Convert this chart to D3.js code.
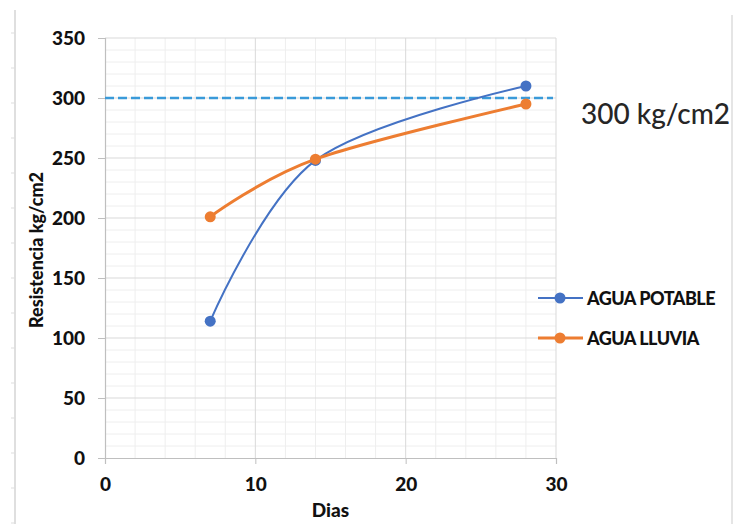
<!DOCTYPE html>
<html>
<head>
<meta charset="utf-8">
<script src="https://cdn.jsdelivr.net/npm/d3@7"></script>
<style>
  html, body { margin: 0; padding: 0; background: #ffffff; }
  svg { display: block; }
  text { font-family: Lato, "Noto Sans", sans-serif; }
</style>
</head>
<body>
<svg id="chart" width="734" height="524"></svg>
<script>
// Compressive strength by curing age
const dias = [7, 14, 28];
const aguaPotable = [114, 248, 310];
const aguaLluvia = [201, 249, 295];
const xTicks = [0, 10, 20, 30];
const yTicks = [0, 50, 100, 150, 200, 250, 300, 350];
const referencia = 300;
const referenciaLabel = "300 kg/cm2";
const seriesNames = ["AGUA POTABLE", "AGUA LLUVIA"];
const seriesColors = ["#4472C4", "#ED7D31"];

const svg = d3.select("#chart");
const W = 734, H = 524;
const plot = { left: 105, right: 556, top: 38, bottom: 458 };

const x = d3.scaleLinear().domain([0, 30]).range([plot.left, plot.right]);
const y = d3.scaleLinear().domain([0, 350]).range([plot.bottom, plot.top]);

// Page edges: soft frame lines with ruler marks on the left
const frame = svg.append("g");
frame.append("line").attr("x1", 15).attr("x2", 15).attr("y1", 10).attr("y2", H)
  .attr("stroke", "#d4d4d4").attr("stroke-width", 1.5);
frame.append("line").attr("x1", 732).attr("x2", 732).attr("y1", 15).attr("y2", H)
  .attr("stroke", "#dcdcdc").attr("stroke-width", 1.5);
frame.selectAll("line.ruler").data(d3.range(33, H, 35)).join("line")
  .attr("class", "ruler")
  .attr("x1", 11).attr("x2", 15).attr("y1", d => d).attr("y2", d => d)
  .attr("stroke", "#dddddd").attr("stroke-width", 1);

// Minor gridlines
const grid = svg.append("g");
grid.selectAll("line.mx").data(d3.range(2, 30, 2).filter(v => v % 10 !== 0)).join("line")
  .attr("class", "mx")
  .attr("x1", d => x(d)).attr("x2", d => x(d)).attr("y1", y(350)).attr("y2", y(0))
  .attr("stroke", "#eeeeee").attr("stroke-width", 1);
grid.selectAll("line.my").data(d3.range(10, 350, 10).filter(v => v % 50 !== 0)).join("line")
  .attr("class", "my")
  .attr("x1", x(0)).attr("x2", x(30)).attr("y1", d => y(d)).attr("y2", d => y(d))
  .attr("stroke", "#eeeeee").attr("stroke-width", 1);

// Major gridlines
grid.selectAll("line.gx").data(xTicks.filter(v => v > 0)).join("line")
  .attr("class", "gx")
  .attr("x1", d => x(d)).attr("x2", d => x(d)).attr("y1", y(350)).attr("y2", y(0))
  .attr("stroke", "#d9d9d9").attr("stroke-width", 1);
grid.selectAll("line.gy").data(yTicks.filter(v => v > 0)).join("line")
  .attr("class", "gy")
  .attr("x1", x(0)).attr("x2", x(30)).attr("y1", d => y(d)).attr("y2", d => y(d))
  .attr("stroke", "#d9d9d9").attr("stroke-width", 1);

// Axes
const xAxis = svg.append("g").attr("transform", `translate(0,${plot.bottom})`)
  .call(d3.axisBottom(x).tickValues(xTicks).tickSize(6).tickPadding(14));
const yAxis = svg.append("g").attr("transform", `translate(${plot.left},0)`)
  .call(d3.axisLeft(y).tickValues(yTicks).tickSize(7).tickPadding(13));
[xAxis, yAxis].forEach(a => {
  a.select(".domain").attr("stroke", "#bfbfbf").attr("stroke-width", 1.2);
  a.selectAll(".tick line").attr("stroke", "#bfbfbf");
  a.selectAll(".tick text").attr("fill", "#111")
    .style("font-family", "Lato, sans-serif").style("font-weight", "900").style("font-size", "19px");
});
xAxis.selectAll(".tick text").attr("dy", "0.71em");

// Axis titles
svg.append("text").attr("x", (plot.left + plot.right) / 2).attr("y", 517)
  .attr("text-anchor", "middle").attr("fill", "#111")
  .style("font-weight", "900").style("font-size", "19px").text("Dias");
svg.append("text").attr("transform", "translate(43,250) rotate(-90)")
  .attr("text-anchor", "middle").attr("fill", "#111")
  .style("font-weight", "900").style("font-size", "18px").text("Resistencia kg/cm2");

// Reference line
svg.append("line").attr("x1", x(0)).attr("x2", x(29.8))
  .attr("y1", y(referencia)).attr("y2", y(referencia))
  .attr("stroke", "#3a9ad9").attr("stroke-width", 2.4).attr("stroke-dasharray", "9,4");
svg.append("text").attr("x", 581).attr("y", 124)
  .attr("fill", "#262626").style("font-size", "28px").style("font-weight", "500")
  .text(referenciaLabel);

// Series
const series = [aguaPotable, aguaLluvia];
const widths = [2, 3];
const line = d3.line().x(d => x(d[0])).y(d => y(d[1])).curve(d3.curveCardinal.tension(0));
series.forEach((vals, i) => {
  const pts = dias.map((d, j) => [d, vals[j]]);
  const g = svg.append("g");
  g.append("path").datum(pts).attr("d", line)
    .attr("fill", "none").attr("stroke", seriesColors[i]).attr("stroke-width", widths[i]);
  g.selectAll("circle").data(pts).join("circle")
    .attr("cx", d => x(d[0])).attr("cy", d => y(d[1])).attr("r", 5.5)
    .attr("fill", seriesColors[i]);
});

// Legend
const legend = svg.append("g");
seriesNames.forEach((name, i) => {
  const ly = 298 + i * 40;
  legend.append("line").attr("x1", 538).attr("x2", 583).attr("y1", ly).attr("y2", ly)
    .attr("stroke", seriesColors[i]).attr("stroke-width", widths[i]);
  legend.append("circle").attr("cx", 560).attr("cy", ly).attr("r", 5.5).attr("fill", seriesColors[i]);
  legend.append("text").attr("x", 587).attr("y", ly + 7)
    .attr("fill", "#111").style("font-weight", "900").style("font-size", "18px")
    .style("letter-spacing", "-0.5px").text(name);
});
</script>
</body>
</html>
